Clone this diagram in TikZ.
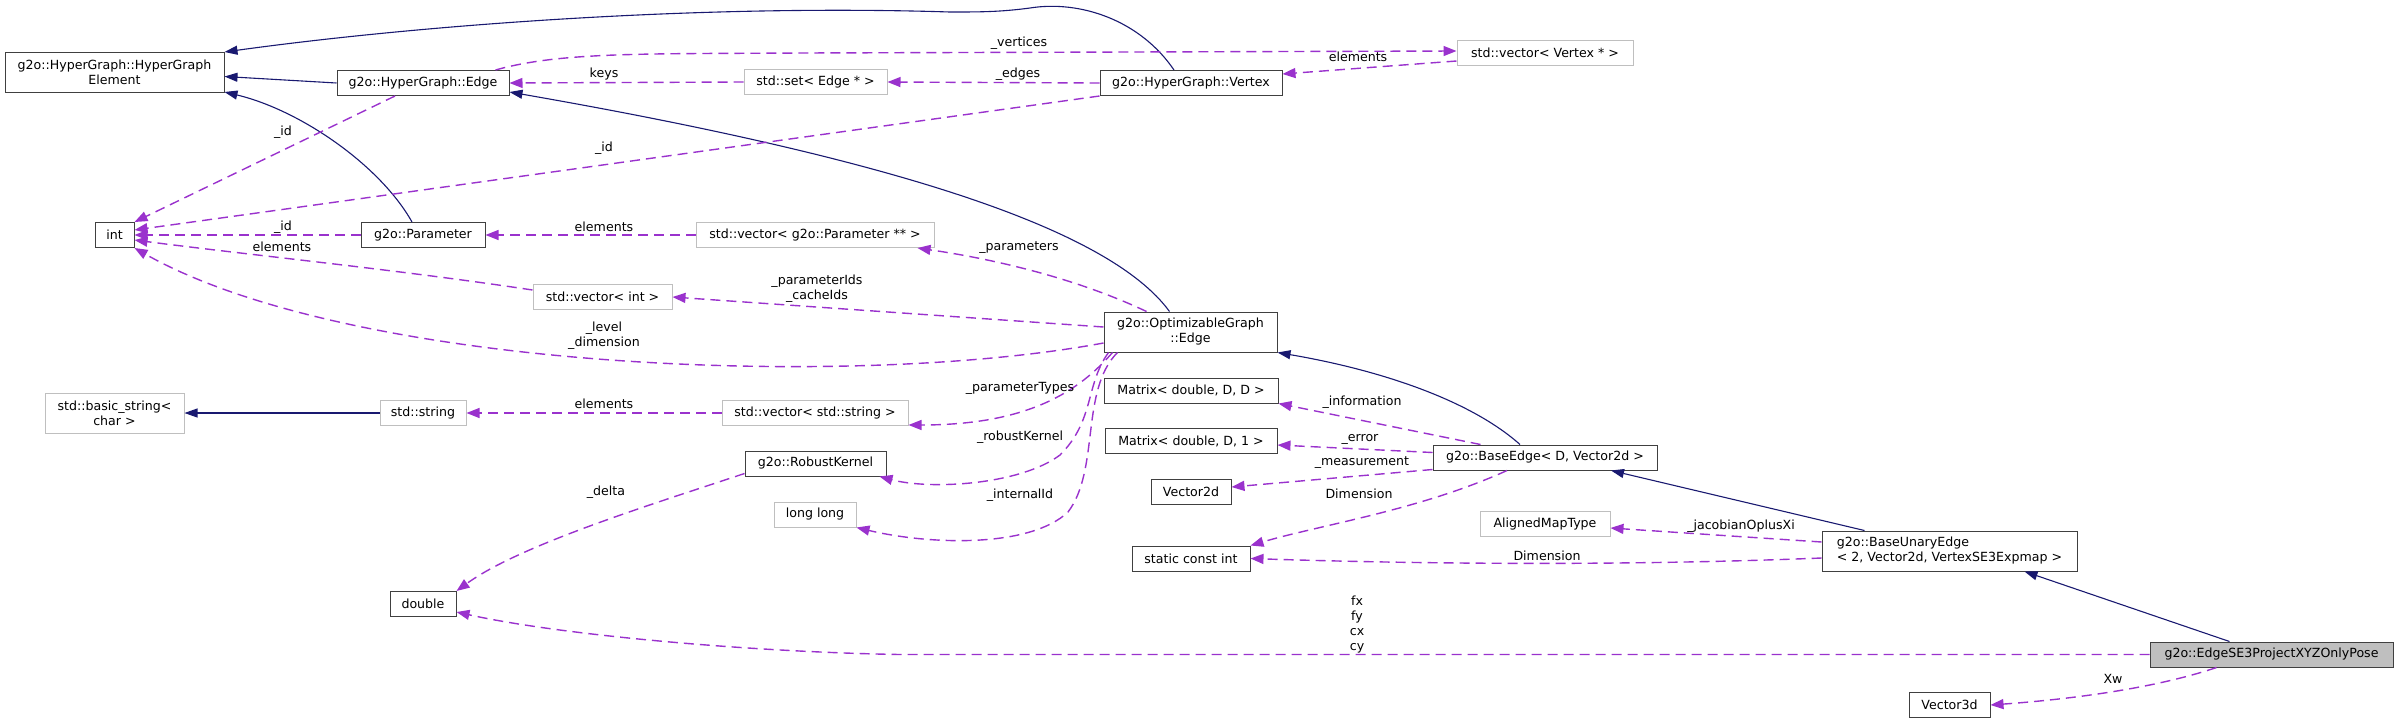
\documentclass[tikz,border=0pt]{standalone}
\usepackage{fontspec}
\setmainfont{DejaVu Sans}
\usetikzlibrary{arrows.meta,calc}
\definecolor{medianoche}{HTML}{191970}
\definecolor{orquidea}{HTML}{9A32CD}
\definecolor{grisclaro}{HTML}{BFBFBF}
\definecolor{borde}{HTML}{404040}

\begin{document}
\begin{tikzpicture}[x=1pt,y=-1pt,
    line cap=butt,
    font=\fontsize{12.6}{15}\selectfont,
    cls/.style={draw=borde,fill=white,line width=1pt,inner sep=0pt,
                minimum height=25pt,align=center},
    ext/.style={cls,draw=grisclaro},
    cur/.style={cls,fill=grisclaro},
    tall/.style={minimum height=40pt},
    inh/.style={medianoche,line width=1.1pt,-{Triangle[length=13pt,width=9pt]}},
    usa/.style={orquidea,line width=1.4pt,dash pattern=on 10pt off 6pt,
                -{Triangle[length=13pt,width=10pt]}},
    lab/.style={inner sep=0pt,align=center}]
  \useasboundingbox (0,0) rectangle (2399,724);
  % --- clases
  \node[cls,tall,minimum width=219pt] (elem) at (114.5,72.5)
    {g2o::HyperGraph::HyperGraph\\Element};
  \node[cls,minimum width=172pt] (hgedge) at (423,83) {g2o::HyperGraph::Edge};
  \node[cls,minimum width=39pt] (int) at (114.5,235) {int};
  \node[cls,minimum width=124pt] (param) at (423,235) {g2o::Parameter};
  \node[ext,minimum width=139pt] (vecint) at (602.5,297) {std::vector< int >};
  \node[ext,minimum width=143pt] (set) at (815.5,82) {std::set< Edge * >};
  \node[cls,minimum width=182pt] (vertex) at (1191,83) {g2o::HyperGraph::Vertex};
  \node[ext,minimum width=176pt] (vecvertex) at (1545,53) {std::vector< Vertex * >};
  \node[ext,minimum width=238pt] (vecparam) at (815,235)
    {std::vector< g2o::Parameter ** >};
  \node[cls,tall,minimum width=173pt] (optedge) at (1190.5,332)
    {g2o::OptimizableGraph\\::Edge};
  \node[ext,tall,minimum width=139pt] (basicstr) at (114.5,413)
    {std::basic\_string<\\char >};
  \node[ext,minimum width=86pt] (string) at (423,413) {std::string};
  \node[ext,minimum width=186pt] (vecstr) at (815,413) {std::vector< std::string >};
  \node[cls,minimum width=141pt] (robust) at (815.5,463.5) {g2o::RobustKernel};
  \node[ext,minimum width=82pt] (longlong) at (815,514.5) {long long};
  \node[cls,minimum width=66pt] (double) at (423,604) {double};
  \node[cls,minimum width=174pt] (matDD) at (1191,390.5) {Matrix< double, D, D >};
  \node[cls,minimum width=172pt] (matD1) at (1191,441) {Matrix< double, D, 1 >};
  \node[cls,minimum width=80pt] (vec2d) at (1191,492) {Vector2d};
  \node[cls,minimum width=118pt] (sci) at (1191,558.5) {static const int};
  \node[cls,minimum width=224pt] (baseedge) at (1545,457.5)
    {g2o::BaseEdge< D, Vector2d >};
  \node[ext,minimum width=130pt] (aligned) at (1545,524) {AlignedMapType};
  \node[cls,tall,minimum width=255pt,align=left] (unary) at (1949.5,551)
    {g2o::BaseUnaryEdge\\< 2, Vector2d, VertexSE3Expmap >};
  \node[cur,minimum width=243pt] (pose) at (2271.5,654.5)
    {g2o::EdgeSE3ProjectXYZOnlyPose};
  \node[cls,minimum width=81pt] (vec3d) at (1949.5,705) {Vector3d};
  % --- herencia
  \draw[inh] ($(vertex.north)+(-17,0)$) .. controls (1140,20) and (1080,0) .. (1030,8)
    .. controls (1000,12) and (980,12) .. (950,12)
    .. controls (700,4) and (420,25) .. ($(elem.north east)+(0,0)$);
  \draw[inh] (hgedge.west) -- ($(elem.east)+(0,4)$);
  \draw[inh] ($(param.north)+(-11,0)$) .. controls (380,165) and (300,110)
    .. ($(elem.south east)+(0,-1)$);
  \draw[inh] ($(optedge.north)+(-21,0)$) .. controls (1110,230) and (900,160)
    .. ($(hgedge.east)+(0,9)$);
  \draw[inh] ($(baseedge.north)+(-25,0)$) .. controls (1470,400) and (1380,370)
    .. (optedge.south east);
  \draw[inh] ($(unary.north)+(-85,0)$) -- ($(baseedge.south)+(66,0)$);
  \draw[inh] ($(pose.north)+(-42,0)$) -- ($(unary.south)+(75,0)$);
  \draw[inh] (string.west) -- (basicstr.east);
  % --- uso
  \draw[usa] ($(hgedge.north east)+(-14,0)$) .. controls (560,52) and (640,54)
    .. (800,53) -- ($(vecvertex.west)+(0,-2)$);
  \draw[usa] ($(vecvertex.west)+(0,8)$) -- ($(vertex.east)+(0,-9)$);
  \draw[usa] (set.west) -- (hgedge.east);
  \draw[usa] (vertex.west) -- (set.east);
  \draw[usa] ($(hgedge.south)+(-28,0)$) -- (int.north east);
  \draw[usa] (vertex.south west) -- ($(int.east)+(0,-5)$);
  \draw[usa] (param.west) -- (int.east);
  \draw[usa] ($(vecint.west)+(0,-7)$) .. controls (400,270) and (250,255)
    .. ($(int.east)+(0,5)$);
  \draw[usa] ($(optedge.west)+(0,11)$) .. controls (850,390) and (350,370)
    .. (int.south east);
  \draw[usa] ($(optedge.west)+(0,-5)$) -- (vecint.east);
  \draw[usa] ($(optedge.north)+(-44,0)$) .. controls (1080,280) and (1000,260)
    .. ($(vecparam.south east)+(-17,0)$);
  \draw[usa] (vecparam.west) -- (param.east);
  \draw[usa] ($(optedge.south west)+(9,0)$) .. controls (1080,390) and (1030,425)
    .. ($(vecstr.south east)+(0,-1)$);
  \draw[usa] (vecstr.west) -- (string.east);
  \draw[usa] ($(optedge.south west)+(5,0)$) .. controls (1085,385) and (1095,420)
    .. (1060,455) .. controls (1020,485) and (930,490) .. ($(robust.south east)+(-7,0)$);
  \draw[usa] ($(optedge.south west)+(14,0)$) .. controls (1080,390) and (1100,470)
    .. (1068,512) .. controls (1030,548) and (930,545) .. (longlong.south east);
  \draw[usa] ($(robust.south west)+(0,-3)$) .. controls (650,505) and (520,545)
    .. (double.north east);
  \draw[usa] ($(baseedge.north west)+(48,0)$) -- (matDD.south east);
  \draw[usa] ($(baseedge.west)+(0,-5)$) -- ($(matD1.east)+(0,4)$);
  \draw[usa] ($(baseedge.west)+(0,12)$) -- ($(vec2d.east)+(0,-5)$);
  \draw[usa] ($(baseedge.south)+(-38,0)$) .. controls (1420,510) and (1320,525)
    .. (sci.north east);
  \draw[usa] ($(unary.west)+(0,-9)$) -- ($(aligned.east)+(0,4)$);
  \draw[usa] ($(unary.west)+(0,7)$) .. controls (1650,565) and (1450,565) .. (sci.east);
  \draw[usa] (pose.west) -- (900,654.5) .. controls (750,652) and (560,635)
    .. ($(double.east)+(0,8)$);
  \draw[usa] ($(pose.south)+(-55,0)$) .. controls (2150,690) and (2060,700) .. (vec3d.east);
  % --- etiquetas
  \node[lab] (lVertices) at (1019,43) {\_vertices};
  \node[lab] (lElemVert) at (1358,57) {elements};
  \node[lab] (lKeys) at (604,74) {keys};
  \node[lab] (lEdges) at (1018,74) {\_edges};
  \node[lab] (lIdEdge) at (283,132) {\_id};
  \node[lab] (lIdVert) at (604,148) {\_id};
  \node[lab] (lIdParam) at (283,227) {\_id};
  \node[lab] (lElemInt) at (282,247) {elements};
  \node[lab] (lLevel) at (604,336) {\_level\\\_dimension};
  \node[lab] (lParamIds) at (817,289) {\_parameterIds\\\_cacheIds};
  \node[lab] (lParams) at (1019,248) {\_parameters};
  \node[lab] (lElemParam) at (604,227) {elements};
  \node[lab] (lParamTypes) at (1020,388) {\_parameterTypes};
  \node[lab] (lElemStr) at (604,404) {elements};
  \node[lab] (lRobust) at (1020,437) {\_robustKernel};
  \node[lab] (lInternal) at (1020,495) {\_internalId};
  \node[lab] (lDelta) at (606,492) {\_delta};
  \node[lab] (lInfo) at (1362,402) {\_information};
  \node[lab] (lError) at (1360,439) {\_error};
  \node[lab] (lMeas) at (1362,463) {\_measurement};
  \node[lab] (lDimBase) at (1359,494) {Dimension};
  \node[lab] (lJacobian) at (1741,526) {\_jacobianOplusXi};
  \node[lab] (lDimUnary) at (1547,556) {Dimension};
  \node[lab] (lIntrin) at (1357,625) {fx\\fy\\cx\\cy};
  \node[lab] (lXw) at (2113,679) {Xw};
\end{tikzpicture}
\end{document}
